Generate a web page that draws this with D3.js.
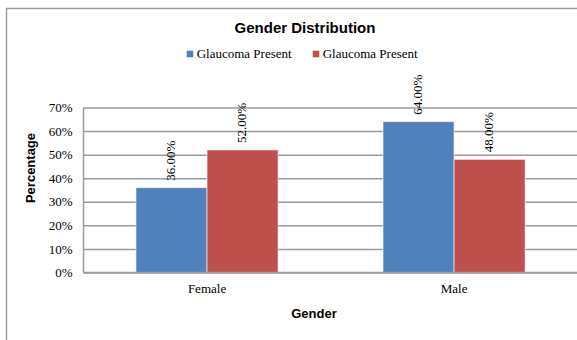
<!DOCTYPE html>
<html><head><meta charset="utf-8">
<script src="https://cdn.jsdelivr.net/npm/d3@7"></script>
<style>html,body{margin:0;padding:0;background:#fff;}svg{display:block;}</style>
</head><body>
<svg id="chart" width="577" height="340"></svg>
<script>
const categories = ["Female", "Male"];
const seriesNames = ["Glaucoma Present", "Glaucoma Present "];
const seriesA = [0.36, 0.64];
const seriesB = [0.52, 0.48];
const yTicks = [0, 0.1, 0.2, 0.3, 0.4, 0.5, 0.6, 0.7];
const colors = ["#4F81BD", "#C0504D"];

const svg = d3.select("#chart");
const serif = "'Liberation Serif', 'Times New Roman', serif";
const sans = "'Liberation Sans', Arial, sans-serif";

// outer frame (cropped on right/bottom)
svg.append("rect").attr("x", 6.5).attr("y", 8.5).attr("width", 620).attr("height", 400)
  .attr("fill", "#fff").attr("stroke", "#9a9a9a").attr("stroke-width", 1.5);

const plot = {left: 83.5, top: 107.5, bottom: 272.5, right: 577.6};
const x0 = d3.scaleBand().domain(categories).range([plot.left, plot.right]).paddingInner(0).paddingOuter(0);
const x1 = d3.scaleBand().domain(d3.range(seriesNames.length)).range([0, x0.bandwidth()]).paddingInner(0).paddingOuter(0.738);
const y = d3.scaleLinear().domain([0, 0.7]).range([plot.bottom, plot.top]);

// gridlines
const yAxis = d3.axisLeft(y).tickValues(yTicks).tickFormat(d3.format(".0%")).tickSize(-(plot.right - plot.left + 20)).tickPadding(11);
const ga = svg.append("g").attr("transform", `translate(${plot.left},0)`).call(yAxis);
ga.select(".domain").remove();
ga.selectAll(".tick line").attr("stroke", "#9a9a9a").attr("stroke-width", 1.5);
ga.selectAll(".tick text").attr("font-family", serif).attr("font-size", 13).attr("fill", "#000");

// plot left border
svg.append("line").attr("x1", plot.left).attr("x2", plot.left).attr("y1", plot.top).attr("y2", plot.bottom)
  .attr("stroke", "#9a9a9a").attr("stroke-width", 1.5);

// bars
const data = categories.map((c, i) => ({cat: c, vals: [seriesA[i], seriesB[i]]}));
const groups = svg.selectAll("g.cat").data(data).join("g").attr("class", "cat")
  .attr("transform", d => `translate(${x0(d.cat)},0)`);
groups.selectAll("rect").data(d => d.vals.map((v, k) => ({v, k}))).join("rect")
  .attr("x", d => x1(d.k)).attr("width", x1.bandwidth())
  .attr("y", d => y(d.v)).attr("height", d => y(0) - y(d.v))
  .attr("fill", d => colors[d.k]).attr("stroke", "rgba(255,255,255,0.6)").attr("stroke-width", 1);
groups.selectAll("text").data(d => d.vals.map((v, k) => ({v, k}))).join("text")
  .attr("transform", d => `translate(${x1(d.k) + x1.bandwidth() / 2 - 1},${y(d.v) - 7}) rotate(-90)`)
  .attr("dy", "0.35em").attr("text-anchor", "start")
  .attr("font-family", serif).attr("font-size", 13).attr("fill", "#000")
  .text(d => d3.format(".2%")(d.v));

// x axis baseline
svg.append("line").attr("x1", plot.left).attr("x2", 577).attr("y1", plot.bottom).attr("y2", plot.bottom)
  .attr("stroke", "#9a9a9a").attr("stroke-width", 1.5);
svg.selectAll("text.cat").data(categories).join("text").attr("class", "cat")
  .attr("x", d => x0(d) + x0.bandwidth() / 2).attr("y", 293)
  .attr("text-anchor", "middle").attr("font-family", serif).attr("font-size", 13).text(d => d);

// titles
svg.append("text").attr("x", 305).attr("y", 32.7).attr("text-anchor", "middle")
  .attr("font-family", sans).attr("font-weight", "bold").attr("font-size", 15).text("Gender Distribution");
svg.append("text").attr("x", 314).attr("y", 317.7).attr("text-anchor", "middle")
  .attr("font-family", sans).attr("font-weight", "bold").attr("font-size", 13).text("Gender");
svg.append("text").attr("transform", "translate(35,168) rotate(-90)").attr("text-anchor", "middle")
  .attr("font-family", sans).attr("font-weight", "bold").attr("font-size", 13).text("Percentage");

// legend
const legendX = [186.7, 312.7];
const lg = svg.selectAll("g.leg").data(seriesNames).join("g").attr("class", "leg")
  .attr("transform", (d, i) => `translate(${legendX[i]},50.7)`);
lg.append("rect").attr("width", 6.6).attr("height", 6.6).attr("fill", (d, i) => colors[i]);
lg.append("text").attr("x", 10).attr("y", 7.6).attr("font-family", serif).attr("font-size", 13).text(d => d.trim());
</script>
</body></html>
